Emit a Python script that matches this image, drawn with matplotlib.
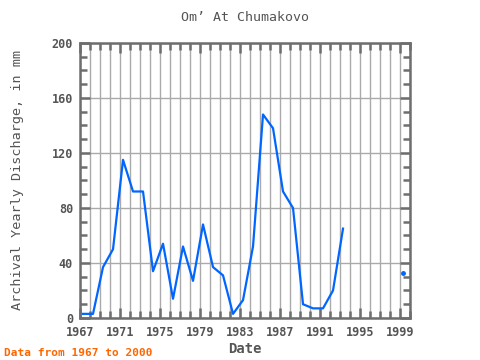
import matplotlib

matplotlib.use("Agg")
import matplotlib.pyplot as plt  # noqa: E402
from matplotlib.ticker import MultipleLocator  # noqa: E402

years = [1967, 1968, 1969, 1970, 1971, 1972, 1973, 1974, 1975, 1976, 1977,
         1978, 1979, 1980, 1981, 1982, 1983, 1984, 1985, 1986, 1987, 1988,
         1989, 1990, 1991, 1992, 1993]
discharge = [3, 3, 37, 50, 115, 92, 92, 34, 54, 14, 52,
             27, 68, 37, 31, 3, 13, 52, 148, 138, 92, 80,
             10, 7, 7, 20, 65]
lone_year = [1999]
lone_value = [33]

xticks = list(range(1967, 2000, 4))
yticks = [0, 40, 80, 120, 160, 200]

BLUE = "#0066ff"
FRAME = "#6e6e6e"
GRID = "#aaaaaa"
TEXT = "#555555"
SHIFT = 0.3  # samples sit a little past the year mark

plt.rcParams["font.family"] = ["DejaVu Sans Mono"]

fig = plt.figure(figsize=(4.8, 3.6), dpi=100)
ax = fig.add_axes([0.1667, 0.1167, 0.6875, 0.7639])

ax.plot([y + SHIFT for y in years], discharge, color=BLUE, lw=1.6, zorder=3)
ax.plot([y + SHIFT for y in lone_year], lone_value, "o", color=BLUE, ms=2.5,
        zorder=3)

ax.set_xlim(1967, 2000)
ax.set_ylim(0, 200)
ax.set_xticks(xticks)
ax.set_yticks(yticks)
ax.xaxis.set_minor_locator(MultipleLocator(1))
ax.yaxis.set_minor_locator(MultipleLocator(10))

ax.grid(True, which="both", axis="x", color=GRID, lw=1)
ax.grid(True, which="major", axis="y", color=GRID, lw=1)
ax.set_axisbelow(True)

for sp in ax.spines.values():
    sp.set_color(FRAME)
    sp.set_linewidth(1.8)

ax.tick_params(which="both", direction="in", top=True, right=True,
               color=FRAME, width=1.8)
ax.tick_params(which="major", length=7, labelsize=8.5, labelcolor=TEXT)
ax.tick_params(which="minor", length=5)
ax.tick_params(axis="x", which="major", pad=6)
ax.tick_params(axis="y", which="major", pad=5)
for lab in ax.get_xticklabels() + ax.get_yticklabels():
    lab.set_fontweight("bold")

ax.set_title("Om’ At Chumakovo", fontsize=9.5, color=TEXT, pad=16)
ax.set_ylabel("Archival Yearly Discharge, in mm", fontsize=9.7, color=TEXT,
              labelpad=20)
ax.set_xlabel("Date", fontsize=10, color=TEXT, fontweight="bold", labelpad=2)

fig.text(0.008, 0.012, "Data from 1967 to 2000", fontsize=8, color="#ff6600",
         fontweight="bold")

fig.savefig("out.png", dpi=100)
plt.close(fig)
